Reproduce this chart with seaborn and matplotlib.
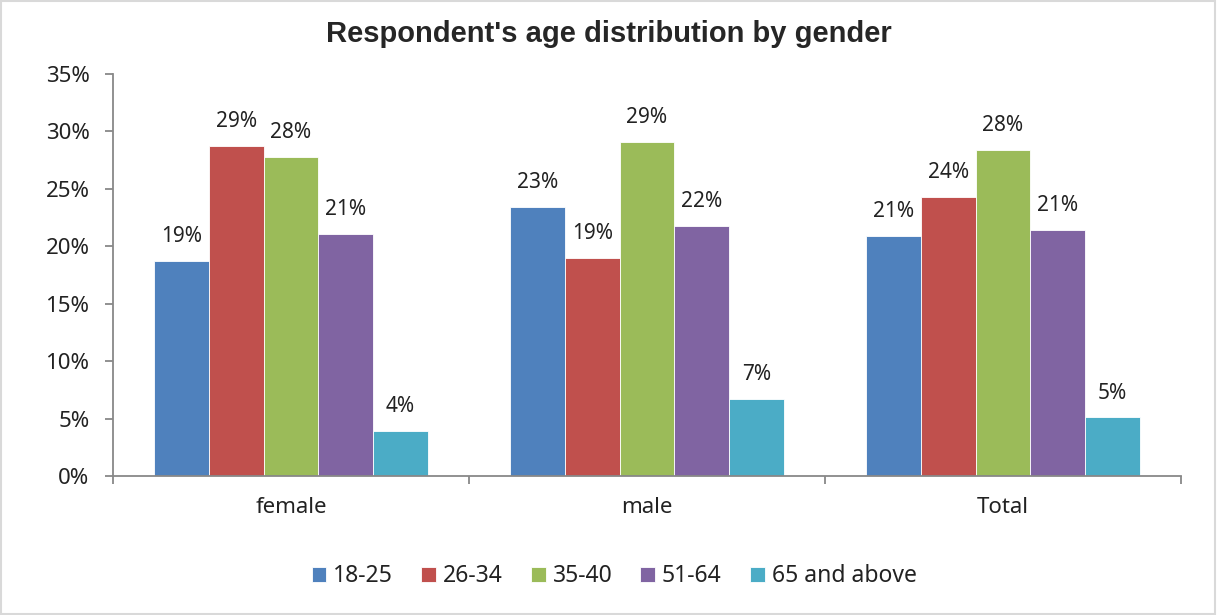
import matplotlib
matplotlib.use("Agg")
import matplotlib.pyplot as plt
import seaborn as sns
import pandas as pd
from matplotlib.patches import Rectangle
from matplotlib.ticker import FuncFormatter, FixedLocator

genders = ["female", "male", "Total"]
age_groups = ["18-25", "26-34", "35-40", "51-64", "65 and above"]
vals_18_25 = [18.7, 23.4, 20.9]
vals_26_34 = [28.7, 19.0, 24.3]
vals_35_40 = [27.8, 29.1, 28.4]
vals_51_64 = [21.1, 21.8, 21.4]
vals_65_up = [3.9, 6.7, 5.1]
colors = ["#4F81BD", "#C0504D", "#9BBB59", "#8064A2", "#4BACC6"]

series = [vals_18_25, vals_26_34, vals_35_40, vals_51_64, vals_65_up]
rows = []
for ag, vals in zip(age_groups, series):
    for g, v in zip(genders, vals):
        rows.append({"gender": g, "age": ag, "value": v})
df = pd.DataFrame(rows)

sns.set_style("white")
plt.rcParams["font.family"] = ["Noto Sans", "DejaVu Sans"]

fig = plt.figure(figsize=(12.17, 6.15), dpi=100)
ax = fig.add_axes([0.0929, 0.226, 0.8775, 0.6537])

sns.barplot(data=df, x="gender", y="value", hue="age", order=genders,
            hue_order=age_groups, palette=colors, width=0.77, ax=ax,
            saturation=1, edgecolor="white", linewidth=0.6, legend=True)

ax.set_ylim(0, 35)
ax.set_xlim(-0.5, 2.5)
ax.yaxis.set_major_locator(FixedLocator(range(0, 36, 5)))
ax.yaxis.set_major_formatter(FuncFormatter(lambda v, p: f"{int(v)}%"))
ax.set_xlabel("")
ax.set_ylabel("")

for c in ax.containers:
    ax.bar_label(c, labels=[f"{round(v)}%" for v in c.datavalues], padding=10,
                 fontsize=15, color="#222222")

for s in ["top", "right"]:
    ax.spines[s].set_visible(False)
for s in ["left", "bottom"]:
    ax.spines[s].set_color("#888888")
    ax.spines[s].set_linewidth(1.3)

ax.tick_params(axis="y", left=True, length=6, width=1.3, color="#888888",
               labelsize=16, labelcolor="#222222", pad=11)
ax.set_xticks([0, 1, 2])
ax.set_xticks([-0.5, 0.5, 1.5, 2.5], minor=True)
ax.tick_params(axis="x", which="major", length=0, labelsize=16,
               labelcolor="#222222", pad=15)
ax.tick_params(axis="x", which="minor", bottom=True, length=6, width=1.3,
               color="#888888")

fig.suptitle("Respondent's age distribution by gender", x=0.5, y=0.968,
             fontsize=21, fontweight="bold", family="Liberation Sans")

handles, labels = ax.get_legend_handles_labels()
ax.get_legend().remove()
fig.legend(handles, labels, loc="center", bbox_to_anchor=(0.5045, 0.063),
           ncol=5, frameon=False, fontsize=16.5, handlelength=0.65,
           handleheight=0.65, handletextpad=0.3, columnspacing=1.22,
           labelcolor="#222222")

fig.patches.append(Rectangle((0.001, 0.002), 0.997, 0.996, transform=fig.transFigure,
                             fill=False, edgecolor="#d9d9d9", linewidth=1.5))

fig.savefig("out.png", dpi=100, facecolor="white")
